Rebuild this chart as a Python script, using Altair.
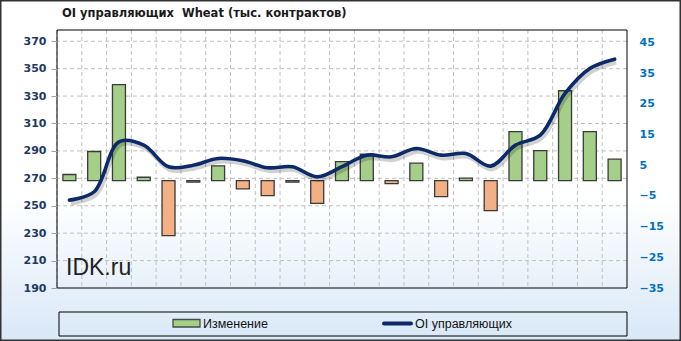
import altair as alt
import pandas as pd

dates = ["16.10.2018", "23.10.2018", "30.10.2018", "06.11.2018", "13.11.2018", "20.11.2018",
         "27.11.2018", "04.12.2018", "11.12.2018", "18.12.2018", "24.12.2018", "31.12.2018",
         "08.01.2019", "15.01.2019", "22.01.2019", "29.01.2019", "05.02.2019", "12.02.2019",
         "19.02.2019", "26.02.2019", "05.03.2019", "12.03.2019", "19.03.2019"]
change = [2.0, 9.5, 31.3, 1.1, -17.9, -0.5, 4.8, -2.7, -4.9, -0.5, -7.4, 6.2,
          8.6, -1.0, 5.7, -5.2, 0.8, -9.8, 16.0, 9.8, 29.3, 16.0, 7.0]
oi = [254.1, 260.2, 296.6, 294.2, 278.4, 279.6, 284.5, 282.8, 277.7, 278.4, 271.1, 278.5,
      286.9, 285.7, 291.8, 286.9, 288.1, 278.9, 294.2, 301.5, 331.9, 350.1, 356.9]
shown_labels = dates[::2]
left_ticks = [190, 210, 230, 250, 270, 290, 310, 330, 350, 370]
right_ticks = [-35, -25, -15, -5, 5, 15, 25, 35, 45]

title_text = "OI управляющих\u00a0 Wheat (тыс. контрактов)"
legend_bar = "Изменение"
legend_line = "OI управляющих"
watermark = "IDK.ru"

W, H = 570, 258
LEFT_DOMAIN = [190, 378.2]
RIGHT_DOMAIN = [-35, 49.1]

df = pd.DataFrame({"date": dates, "change": change, "oi": oi})
one = pd.DataFrame({"a": [0]})

xsort = dates
xscale = alt.Scale(paddingInner=0, paddingOuter=0)

label_expr = "indexof([" + ",".join("'" + d + "'" for d in shown_labels) + "], datum.value) >= 0 ? datum.value : ''"

bg = alt.Chart(one).mark_rect(
    fill=alt.LinearGradient(
        gradient="linear", x1=0, x2=0, y1=0, y2=1,
        stops=[alt.GradientStop(color="#ffffff", offset=0),
               alt.GradientStop(color="#ffffff", offset=0.58),
               alt.GradientStop(color="#d9e8f7", offset=1)]),
    stroke="#333333", strokeWidth=1.5,
).encode(x=alt.value(-56.25), x2=alt.value(623.25), y=alt.value(-29.25), y2=alt.value(310.25))

hgrid = alt.Chart(pd.DataFrame({"v": left_ticks[1:]})).mark_rule(
    color="#c0c0c0", strokeDash=[4, 3], strokeWidth=1
).encode(y=alt.Y("v:Q", scale=alt.Scale(domain=LEFT_DOMAIN, nice=False, zero=False), axis=None))

vgrid = alt.Chart(df).mark_rule(
    color="#c0c0c0", strokeDash=[4, 3], strokeWidth=1
).encode(
    x=alt.X("date:N", sort=xsort, scale=xscale, bandPosition=0, axis=None),
    y=alt.value(0), y2=alt.value(H),
)

bars = alt.Chart(df).mark_bar(size=13, stroke="#3a3a3a", strokeWidth=1.3).encode(
    x=alt.X("date:N", sort=xsort, scale=xscale, title=None,
            axis=alt.Axis(labelExpr=label_expr, labelAngle=0, labelOverlap=False,
                          labelFont="Liberation Sans", labelFontWeight="bold", labelFontSize=7.5,
                          labelColor="#000000", labelPadding=8, tickSize=0,
                          domain=False, grid=False, zindex=2)),
    y=alt.Y("change:Q", scale=alt.Scale(domain=RIGHT_DOMAIN, nice=False), title=None,
            axis=alt.Axis(orient="right", values=right_ticks, labelFont="DejaVu Sans",
                          labelFontWeight="bold", labelFontSize=11, labelColor="#0070C0",
                          labelPadding=12, tickSize=0, domain=False, grid=False, zindex=2)),
    color=alt.condition(alt.datum.change >= 0, alt.value("#a5cf88"), alt.value("#f2b084")),
)

shadow = alt.Chart(df).mark_line(
    color="#000000", opacity=0.18, strokeWidth=4.5, interpolate="catmull-rom", yOffset=3, xOffset=1.5
).encode(
    x=alt.X("date:N", sort=xsort, scale=xscale, axis=None),
    y=alt.Y("oi:Q", scale=alt.Scale(domain=LEFT_DOMAIN, nice=False, zero=False), axis=None),
)

line = alt.Chart(df).mark_line(
    color="#0c2a6a", strokeWidth=3.6, interpolate="catmull-rom", strokeCap="round"
).encode(
    x=alt.X("date:N", sort=xsort, scale=xscale, axis=None),
    y=alt.Y("oi:Q", scale=alt.Scale(domain=LEFT_DOMAIN, nice=False, zero=False), title=None,
            axis=alt.Axis(orient="left", values=left_ticks, labelFont="DejaVu Sans",
                          labelFontWeight="bold", labelFontSize=11, labelColor="#1f3864",
                          labelPadding=5, tickSize=6, tickColor="#a0a0a0", domain=False,
                          grid=False, zindex=2)),
)

frame = alt.Chart(one).mark_rect(fill=None, stroke="#000000", strokeWidth=1).encode(
    x=alt.value(0), x2=alt.value(W), y=alt.value(0), y2=alt.value(H))

title = alt.Chart(one).mark_text(
    text=title_text, font="DejaVu Sans", fontWeight="bold", fontSize=11.5,
    color="#1a1a1a", align="left", baseline="middle"
).encode(x=alt.value(5), y=alt.value(-16))

wm = alt.Chart(one).mark_text(
    text=watermark, font="Liberation Sans", fontSize=23, color="#222222",
    align="left", baseline="alphabetic"
).encode(x=alt.value(9), y=alt.value(245))

leg_box = alt.Chart(one).mark_rect(fill=None, stroke="#000000", strokeWidth=1).encode(
    x=alt.value(2), x2=alt.value(570), y=alt.value(282), y2=alt.value(306))
leg_sw = alt.Chart(one).mark_rect(fill="#a5cf88", stroke="#4a4a4a", strokeWidth=1.3).encode(
    x=alt.value(116), x2=alt.value(143), y=alt.value(289.5), y2=alt.value(297))
leg_ln = alt.Chart(one).mark_rule(color="#0c2a6a", strokeWidth=4, strokeCap="round").encode(
    x=alt.value(327), x2=alt.value(354), y=alt.value(293.5))
leg_t1 = alt.Chart(one).mark_text(
    text=legend_bar, font="Liberation Sans", fontSize=12.5, color="#111111",
    align="left", baseline="middle").encode(x=alt.value(146), y=alt.value(293.5))
leg_t2 = alt.Chart(one).mark_text(
    text=legend_line, font="Liberation Sans", fontSize=12.5, color="#111111",
    align="left", baseline="middle").encode(x=alt.value(358), y=alt.value(293.5))

chart = alt.layer(
    bg, hgrid, vgrid, bars, shadow, line, frame, title, wm, leg_box, leg_sw, leg_ln, leg_t1, leg_t2
).resolve_scale(y="independent").properties(
    width=W, height=H,
    padding={"left": 57, "top": 30, "right": 54, "bottom": 53},
    autosize=alt.AutoSizeParams(type="none"),
    background="#ffffff",
).configure_view(stroke=None)

chart.save("out.html", embed_options={"renderer": "svg", "actions": False})
